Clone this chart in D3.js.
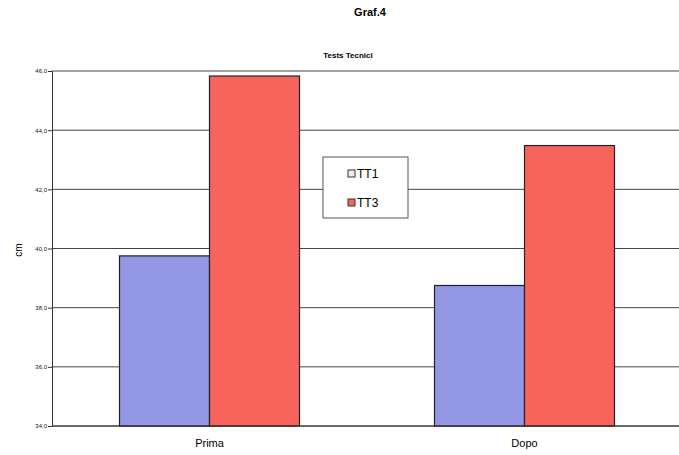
<!DOCTYPE html>
<html><head><meta charset="utf-8">
<script src="https://cdn.jsdelivr.net/npm/d3@7"></script>
<style>body{margin:0;background:#fff}svg{display:block}</style>
</head><body>
<svg id="c" width="679" height="455"></svg>
<script>
const categories = ["Prima", "Dopo"];
const seriesNames = ["TT1", "TT3"];
const tt1 = [39.75, 38.75];
const tt3 = [45.83, 43.48];
const yTicks = [34, 36, 38, 40, 42, 44, 46];
const seriesColors = ["#9397e6", "#f8635b"];

const svg = d3.select("#c");
const L = 52, R = 682, T = 71, B = 426;
const y = d3.scaleLinear().domain([34, 46]).range([B, T]);
const x0 = d3.scaleBand().domain(categories).range([L, R]).padding(0);
const x1 = d3.scaleBand().domain(seriesNames).range([0, x0.bandwidth()]).paddingInner(0).paddingOuter(0.75);

svg.append("text").attr("x", 370).attr("y", 16).attr("text-anchor", "middle")
  .attr("font-family", "Liberation Sans, Arial").attr("font-weight", "bold").attr("font-size", 11).text("Graf.4");
svg.append("text").attr("x", 348).attr("y", 58).attr("text-anchor", "middle")
  .attr("font-family", "Liberation Sans, Arial").attr("font-weight", "bold").attr("font-size", 8).text("Tests Tecnici");

// gridlines
svg.append("g").selectAll("line").data(yTicks).join("line")
  .attr("x1", L).attr("x2", R).attr("y1", d => y(d)).attr("y2", d => y(d))
  .attr("stroke", "#444").attr("stroke-width", 1);

// y axis
const yAxis = d3.axisLeft(y).tickValues(yTicks).tickSize(4).tickFormat(d => d3.format(".1f")(d).replace(".", ","));
const ga = svg.append("g").attr("transform", `translate(${L},0)`).call(yAxis);
ga.select(".domain").attr("stroke", "#333");
ga.selectAll(".tick line").attr("stroke", "#333");
ga.selectAll("text").attr("font-family", "Liberation Sans, Arial").attr("font-size", 6).attr("fill", "#111").attr("dx", "2");

svg.append("text").attr("transform", `translate(22,250) rotate(-90)`).attr("text-anchor", "middle")
  .attr("font-family", "Liberation Sans, Arial").attr("font-size", 10).text("cm");

// bars
const data = categories.map((c, i) => ({cat: c, vals: [tt1[i], tt3[i]]}));
const groups = svg.append("g").selectAll("g").data(data).join("g")
  .attr("transform", d => `translate(${x0(d.cat)},0)`);
groups.selectAll("rect").data(d => d.vals.map((v, j) => ({s: seriesNames[j], v, j}))).join("rect")
  .attr("x", d => x1(d.s)).attr("width", x1.bandwidth())
  .attr("y", d => y(d.v)).attr("height", d => y(34) - y(d.v))
  .attr("fill", d => seriesColors[d.j]).attr("stroke", "#222").attr("stroke-width", 1.2);

// x axis
svg.append("line").attr("x1", L).attr("x2", R).attr("y1", B).attr("y2", B).attr("stroke", "#333");
svg.append("g").selectAll("text").data(categories).join("text")
  .attr("x", d => x0(d) + x0.bandwidth() / 2).attr("y", 447).attr("text-anchor", "middle")
  .attr("font-family", "Liberation Sans, Arial").attr("font-size", 11).text(d => d);

// legend
const lg = svg.append("g");
lg.append("rect").attr("x", 323).attr("y", 157).attr("width", 85).attr("height", 61)
  .attr("fill", "#fff").attr("stroke", "#555").attr("stroke-width", 1);
seriesNames.forEach((s, i) => {
  const yy = 176 + i * 29;
  lg.append("rect").attr("x", 348).attr("y", yy - 6).attr("width", 7).attr("height", 7)
    .attr("fill", i === 0 ? "#eee" : seriesColors[1]).attr("stroke", "#333");
  lg.append("text").attr("x", 357).attr("y", yy + 1.5).attr("font-family", "Liberation Sans, Arial")
    .attr("font-size", 12).text(s);
});
</script>
</body></html>
